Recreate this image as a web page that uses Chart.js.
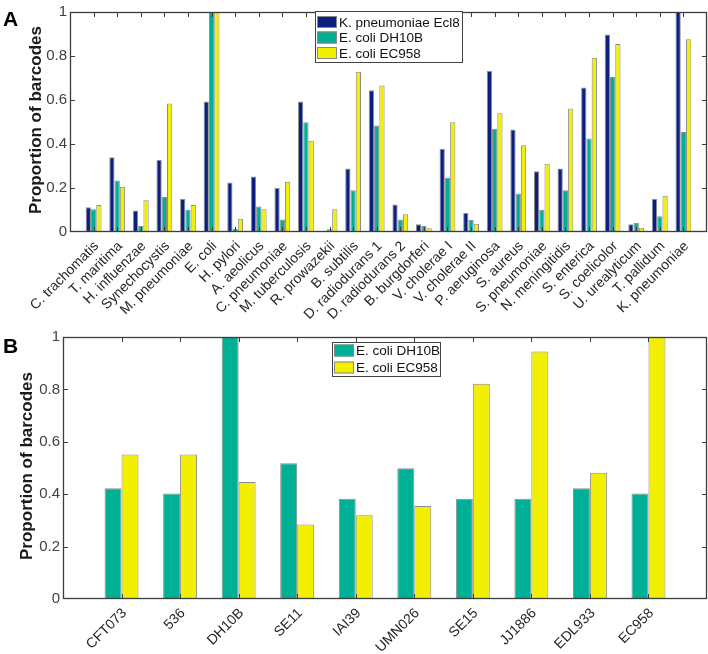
<!DOCTYPE html>
<html>
<head>
<meta charset="utf-8">
<script src="https://cdn.jsdelivr.net/npm/chart.js@4.4.0/dist/chart.umd.min.js"></script>
<style>
    body { margin: 0; background: #fff; }
    .panel { position: absolute; left: 0; width: 708px; }
    #panelA { top: 0; height: 325px; }
    #panelB { top: 325px; height: 329px; }
</style>
</head>
<body>
<div class="panel" id="panelA"><canvas id="chartA"></canvas></div>
<div class="panel" id="panelB"><canvas id="chartB"></canvas></div>
<script>
// panel A data
const speciesLabels = ['C. trachomatis', 'T. maritima', 'H. influenzae', 'Synechocystis', 'M. pneumoniae',
    'E. coli', 'H. pylori', 'A. aeolicus', 'C. pneumoniae', 'M. tuberculosis', 'R. prowazekii',
    'B. subtilis', 'D. radiodurans 1', 'D. radiodurans 2', 'B. burgdorferi', 'V. cholerae I',
    'V. cholerae II', 'P. aeruginosa', 'S. aureus', 'S. pneumoniae', 'N. meningitidis',
    'S. enterica', 'S. coelicolor', 'U. urealyticum', 'T. pallidum', 'K. pneumoniae'];
const ecl8Values  = [0.112, 0.340, 0.098, 0.327, 0.150, 0.593, 0.225, 0.252, 0.200, 0.593, 0.000, 0.289, 0.644,
    0.125, 0.035, 0.378, 0.086, 0.732, 0.466, 0.276, 0.289, 0.657, 0.898, 0.035, 0.150, 1.000];
const dh10bValues = [0.103, 0.234, 0.027, 0.159, 0.101, 1.000, 0.014, 0.116, 0.057, 0.499, 0.012, 0.190, 0.484,
    0.057, 0.027, 0.247, 0.055, 0.469, 0.175, 0.101, 0.190, 0.425, 0.704, 0.042, 0.072, 0.455];
const ec958Values = [0.123, 0.206, 0.144, 0.584, 0.123, 1.000, 0.060, 0.103, 0.228, 0.415, 0.103, 0.728, 0.666,
    0.081, 0.017, 0.499, 0.038, 0.540, 0.394, 0.310, 0.561, 0.792, 0.854, 0.019, 0.165, 0.876];

// panel B data
const strainLabels = ['CFT073', '536', 'DH10B', 'SE11', 'IAI39', 'UMN026', 'SE15', 'JJ1886', 'EDL933', 'EC958'];
const strainDh10b = [0.423, 0.403, 1.000, 0.518, 0.383, 0.499, 0.383, 0.383, 0.423, 0.403];
const strainEc958 = [0.552, 0.552, 0.447, 0.284, 0.320, 0.355, 0.822, 0.945, 0.482, 1.000];

const yTickValues = [0, 0.2, 0.4, 0.6, 0.8, 1];

const NAVY = '#0a1f80';
const TEAL = '#00b096';
const YELLOW = '#f3ef00';
const FONT = '"Liberation Sans", Arial, sans-serif';

function toPoints(values) {
    return values.map((v, i) => ({ x: i + 1, y: v }));
}

// matlab style box, inner ticks, legend, y title and panel letter
const matlabBox = {
    id: 'matlabBox',
    afterDatasetsDraw(chart, args, opts) {
        const { ctx, chartArea: a, scales: { x, y } } = chart;
        ctx.save();
        ctx.strokeStyle = '#3c3c3c';
        ctx.lineWidth = 1;
        ctx.beginPath();
        for (let i = 1; i <= opts.count; i++) {
            const px = Math.round(x.getPixelForValue(i)) + 0.5;
            ctx.moveTo(px, a.bottom); ctx.lineTo(px, a.bottom - 5);
            ctx.moveTo(px, a.top); ctx.lineTo(px, a.top + 5);
        }
        yTickValues.slice(1, -1).forEach(v => {
            const py = Math.round(y.getPixelForValue(v)) + 0.5;
            ctx.moveTo(a.left, py); ctx.lineTo(a.left + 5, py);
            ctx.moveTo(a.right, py); ctx.lineTo(a.right - 5, py);
        });
        ctx.stroke();
        ctx.lineWidth = 1.3;
        ctx.strokeRect(a.left + 0.5, a.top + 0.5, a.width - 1, a.height - 1);

        // legend
        const lg = opts.legend;
        ctx.fillStyle = '#fff';
        ctx.fillRect(lg.x, lg.y, lg.w, lg.h);
        ctx.lineWidth = 1;
        ctx.strokeStyle = '#444';
        ctx.strokeRect(lg.x + 0.5, lg.y + 0.5, lg.w, lg.h);
        ctx.font = '13.5px ' + FONT;
        ctx.textBaseline = 'middle';
        ctx.textAlign = 'left';
        chart.data.datasets.forEach((ds, i) => {
            const cy = lg.y + lg.first + i * lg.rowH;
            ctx.fillStyle = ds.backgroundColor;
            ctx.fillRect(lg.x + 2, cy - 6, 20, 12);
            ctx.strokeStyle = '#888';
            ctx.strokeRect(lg.x + 2.5, cy - 5.5, 19, 11);
            ctx.fillStyle = '#111';
            ctx.fillText(ds.label, lg.x + 24, cy + 1);
        });

        // y title
        ctx.save();
        ctx.translate(opts.titleX, opts.titleY);
        ctx.rotate(-Math.PI / 2);
        ctx.font = 'bold 17px ' + FONT;
        ctx.textAlign = 'center';
        ctx.textBaseline = 'middle';
        ctx.fillStyle = '#1a1a1a';
        ctx.fillText('Proportion of barcodes', 0, 0);
        ctx.restore();

        // panel letter
        ctx.font = 'bold 21px ' + FONT;
        ctx.fillStyle = '#000';
        ctx.textAlign = 'left';
        ctx.textBaseline = 'alphabetic';
        ctx.fillText(opts.letter, 3, opts.letterY);
        ctx.restore();
    }
};

function makeOptions(cfg) {
    return {
        responsive: true,
        maintainAspectRatio: false,
        animation: false,
        layout: { padding: { top: cfg.top, right: 1, left: 0, bottom: 0 } },
        plugins: {
            legend: { display: false },
            tooltip: { enabled: false },
            matlabBox: cfg.box
        },
        datasets: { bar: { categoryPercentage: cfg.groupWidth, barPercentage: 1, borderWidth: 1, borderColor: '#8c8c8c' } },
        scales: {
            x: {
                type: 'linear',
                offset: false,
                min: 0,
                max: cfg.labels.length + 1,
                grid: { display: false, drawTicks: false, offset: false },
                border: { display: false },
                afterBuildTicks: s => { s.ticks = cfg.labels.map((l, i) => ({ value: i + 1 })); },
                afterFit: s => { s.height = cfg.xHeight; },
                ticks: {
                    autoSkip: false,
                    minRotation: 45,
                    maxRotation: 45,
                    padding: 6,
                    labelOffset: 3,
                    color: '#262626',
                    font: { family: FONT, size: 14 },
                    callback: v => cfg.labels[v - 1]
                }
            },
            y: {
                min: 0,
                max: 1,
                grid: { display: false, drawTicks: false },
                border: { display: false },
                afterFit: s => { s.width = cfg.left; },
                afterBuildTicks: s => { s.ticks = yTickValues.map(v => ({ value: v })); },
                ticks: {
                    padding: 3,
                    color: '#404040',
                    font: { family: FONT, size: 15 },
                    callback: v => String(Number(v.toFixed(1)))
                }
            }
        }
    };
}

new Chart(document.getElementById('chartA'), {
    type: 'bar',
    data: {
        datasets: [
            { label: 'K. pneumoniae Ecl8', data: toPoints(ecl8Values), backgroundColor: NAVY },
            { label: 'E. coli DH10B', data: toPoints(dh10bValues), backgroundColor: TEAL },
            { label: 'E. coli EC958', data: toPoints(ec958Values), backgroundColor: YELLOW }
        ]
    },
    options: makeOptions({
        labels: speciesLabels, top: 7, left: 70, xHeight: 93, groupWidth: 0.67,
        box: { count: speciesLabels.length, letter: 'A', letterY: 26, titleX: 36, titleY: 120,
            legend: { x: 315, y: 11, w: 147, h: 51, first: 11, rowH: 15.5 } }
    }),
    plugins: [matlabBox]
});

new Chart(document.getElementById('chartB'), {
    type: 'bar',
    data: {
        datasets: [
            { label: 'E. coli DH10B', data: toPoints(strainDh10b), backgroundColor: TEAL },
            { label: 'E. coli EC958', data: toPoints(strainEc958), backgroundColor: YELLOW }
        ]
    },
    options: makeOptions({
        labels: strainLabels, top: 12, left: 63, xHeight: 55, groupWidth: 0.58,
        box: { count: strainLabels.length, letter: 'B', letterY: 28, titleX: 27, titleY: 141,
            legend: { x: 332, y: 17, w: 108, h: 34, first: 8.5, rowH: 17 } }
    }),
    plugins: [matlabBox]
});
</script>
</body>
</html>
